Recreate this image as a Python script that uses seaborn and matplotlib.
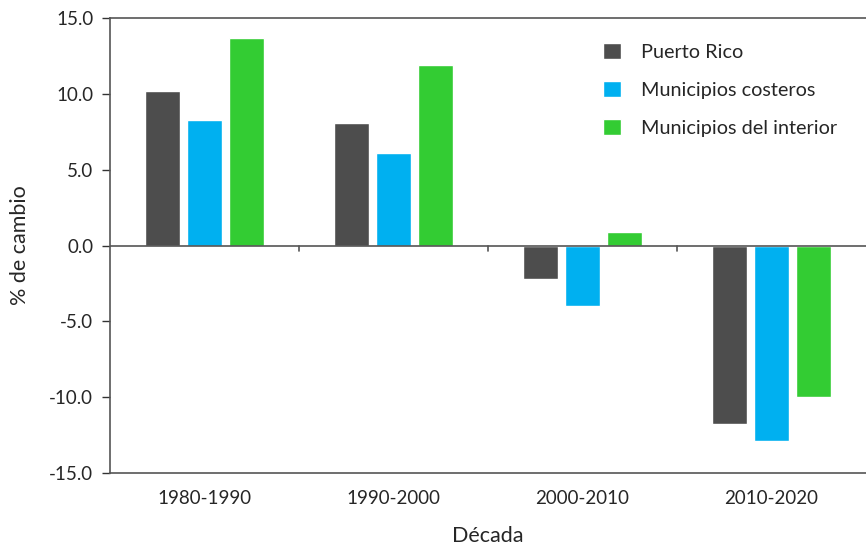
import pandas as pd
import matplotlib
matplotlib.use("Agg")
import matplotlib.pyplot as plt
import seaborn as sns

decades = ["1980-1990", "1990-2000", "2000-2010", "2010-2020"]
series = ["Puerto Rico", "Municipios costeros", "Municipios del interior"]
puerto_rico = [10.2, 8.1, -2.2, -11.8]
costeros = [8.3, 6.1, -4.0, -12.9]
interior = [13.7, 11.9, 0.9, -10.0]
colors = ["#4d4d4d", "#00b0f0", "#33cc33"]

df = pd.DataFrame({
    "Década": decades * 3,
    "serie": [s for s in series for _ in decades],
    "cambio": puerto_rico + costeros + interior,
})

sns.set_style("white")
plt.rcParams["font.family"] = ["Lato", "DejaVu Sans"]

fig = plt.figure(figsize=(8.66, 5.48), dpi=100)
ax = fig.add_axes([0.127, 0.137, 0.873, 0.83])

sns.barplot(data=df, x="Década", y="cambio", hue="serie", order=decades,
            hue_order=series, palette=colors, width=0.66, gap=0.16,
            saturation=1, ax=ax)

ax.set_ylim(-15, 15)
ax.set_xlim(-0.5, 3.5)
ax.set_yticks([-15, -10, -5, 0, 5, 10, 15])
ax.set_yticklabels([f"{v:.1f}" for v in [-15, -10, -5, 0, 5, 10, 15]])
ax.tick_params(axis="y", which="major", direction="out", length=6, width=1,
               color="#333333", labelsize=13.5, pad=6, left=True)
ax.tick_params(axis="x", length=0, labelsize=13.5, pad=12)

for side in ["left", "bottom", "top"]:
    ax.spines[side].set_visible(True)
    ax.spines[side].set_color("#555555")
    ax.spines[side].set_linewidth(1.2)
ax.spines["right"].set_visible(False)
ax.axhline(0, color="#555555", lw=1.2, zorder=3)
# small separators on the zero line between groups
for b in [0.5, 1.5, 2.5]:
    ax.plot([b, b], [0, -0.35], color="#555555", lw=1.2, zorder=3)

ax.set_xlabel("Década", fontsize=15.5, labelpad=14)
ax.set_ylabel("% de cambio", fontsize=15.5, labelpad=14)

leg = ax.legend(loc="upper right", bbox_to_anchor=(0.985, 0.985), frameon=False,
                fontsize=14.3, handlelength=0.9, handleheight=0.9,
                labelspacing=1.0, handletextpad=1.0)

fig.savefig("out.png", dpi=100)
